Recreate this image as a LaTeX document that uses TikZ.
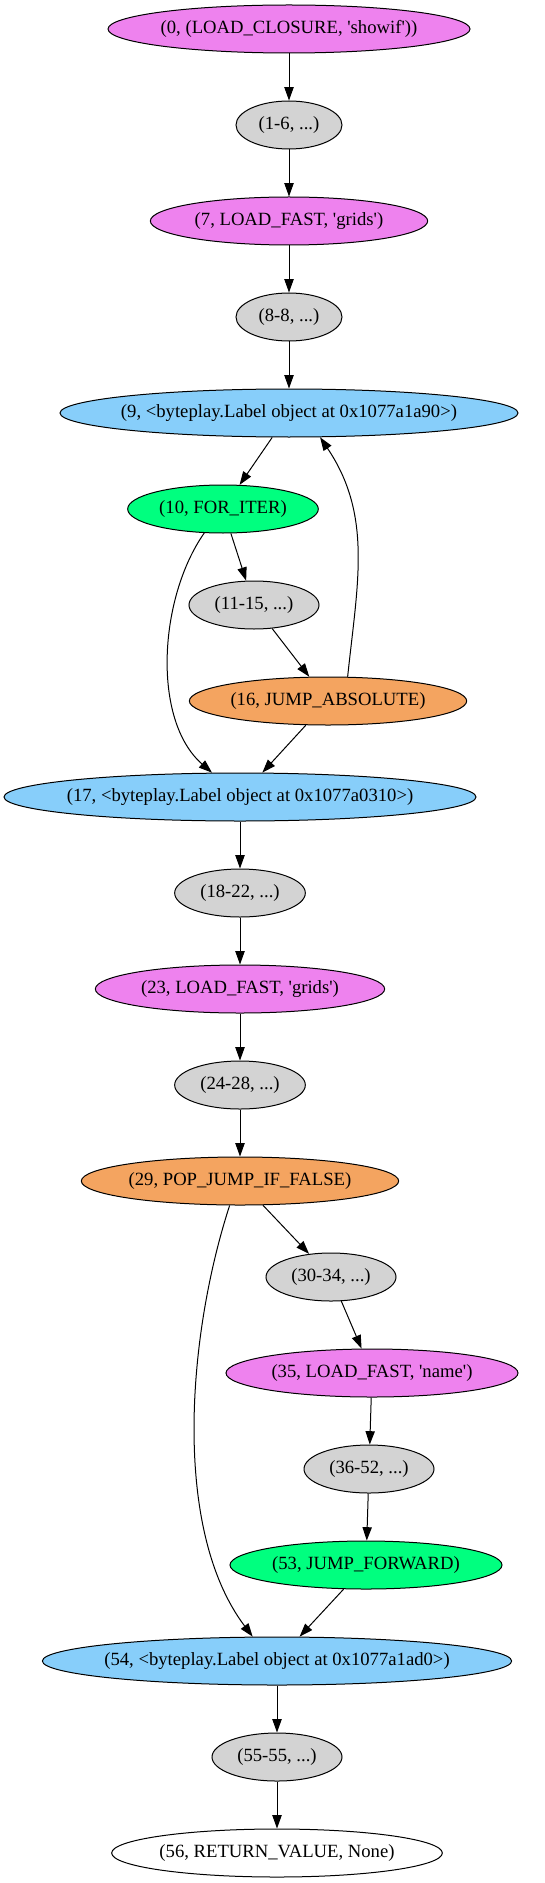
\documentclass[tikz,border=0pt]{standalone}
\usepackage{fontspec}
\setmainfont{Liberation Serif}
\usetikzlibrary{shapes.geometric,arrows.meta}
\definecolor{cviolet}{HTML}{EE82EE}
\definecolor{cgray}{HTML}{D3D3D3}
\definecolor{cblue}{HTML}{87CEFA}
\definecolor{cgreen}{HTML}{00FF7F}
\definecolor{corange}{HTML}{F4A460}
\newcommand{\T}[1]{\makebox[0pt]{#1}}
\newcommand{\q}{\textquotesingle}
\tikzset{
  gv/.style={ellipse, draw=black, line width=0.75pt, inner sep=0pt, minimum height=36pt,
    font=\fontsize{14}{16}\selectfont},
  edge/.style={line width=0.75pt, -{Triangle[length=10pt,width=7pt]}}
}
\begin{document}
\begin{tikzpicture}[x=0.75pt,y=-0.75pt]
\useasboundingbox (0,0) rectangle (545,1883);
\node[gv, fill=cviolet, minimum width=271.5pt] (n0) at (289,29) {\T{(0, (LOAD\_CLOSURE, \q showif\q))}};
\node[gv, fill=cgray, minimum width=79.5pt] (n1) at (289,125) {\T{(1-6, ...)}};
\node[gv, fill=cviolet, minimum width=208pt] (n7) at (289,221) {\T{(7, LOAD\_FAST, \q grids\q)}};
\node[gv, fill=cgray, minimum width=79.5pt] (n8) at (289,317) {\T{(8-8, ...)}};
\node[gv, fill=cblue, minimum width=343.5pt] (n9) at (289,413) {\T{(9, <byteplay.Label object at 0x1077a1a90>)}};
\node[gv, fill=cgreen, minimum width=143pt] (n10) at (223,509) {\T{(10, FOR\_ITER)}};
\node[gv, fill=cgray, minimum width=97.5pt] (n11) at (254,605) {\T{(11-15, ...)}};
\node[gv, fill=corange, minimum width=208pt] (n16) at (328,701) {\T{(16, JUMP\_ABSOLUTE)}};
\node[gv, fill=cblue, minimum width=354pt] (n17) at (240,797) {\T{(17, <byteplay.Label object at 0x1077a0310>)}};
\node[gv, fill=cgray, minimum width=98pt] (n18) at (240,893) {\T{(18-22, ...)}};
\node[gv, fill=cviolet, minimum width=217pt] (n23) at (240,989) {\T{(23, LOAD\_FAST, \q grids\q)}};
\node[gv, fill=cgray, minimum width=98pt] (n24) at (240,1085) {\T{(24-28, ...)}};
\node[gv, fill=corange, minimum width=238pt] (n29) at (240,1181) {\T{(29, POP\_JUMP\_IF\_FALSE)}};
\node[gv, fill=cgray, minimum width=97.5pt] (n30) at (331,1277) {\T{(30-34, ...)}};
\node[gv, fill=cviolet, minimum width=219pt] (n35) at (372,1373) {\T{(35, LOAD\_FAST, \q name\q)}};
\node[gv, fill=cgray, minimum width=97.5pt] (n36) at (369,1469) {\T{(36-52, ...)}};
\node[gv, fill=cgreen, minimum width=204pt] (n53) at (366,1565) {\T{(53, JUMP\_FORWARD)}};
\node[gv, fill=cblue, minimum width=352pt] (n54) at (277,1661) {\T{(54, <byteplay.Label object at 0x1077a1ad0>)}};
\node[gv, fill=cgray, minimum width=97.5pt] (n55) at (277,1757) {\T{(55-55, ...)}};
\node[gv, fill=white, minimum width=248pt] (n56) at (277,1853) {\T{(56, RETURN\_VALUE, None)}};

\draw[edge] (n0) -- (n1);
\draw[edge] (n1) -- (n7);
\draw[edge] (n7) -- (n8);
\draw[edge] (n8) -- (n9);
\draw[edge] (n9) -- (n10);
\draw[edge] (n10) -- (n11);
\draw[edge] (n11) -- (n16);
\draw[edge] (n16) -- (n17);
\draw[edge] (n10.-128.4) to[out=-125,in=139,looseness=0.85] (n17.139.4);
\draw[edge] (n16.51.6) to[out=84,in=-56] (n9.-38.7);
\draw[edge] (n17) -- (n18);
\draw[edge] (n18) -- (n23);
\draw[edge] (n23) -- (n24);
\draw[edge] (n24) -- (n29);
\draw[edge] (n29) -- (n30);
\draw[edge] (n30) -- (n35);
\draw[edge] (n35) -- (n36);
\draw[edge] (n36) -- (n53);
\draw[edge] (n53) -- (n54);
\draw[edge] (n29.-113.7) to[out=-108,in=127,looseness=0.8] (n54.135);
\draw[edge] (n54) -- (n55);
\draw[edge] (n55) -- (n56);
\end{tikzpicture}
\end{document}
